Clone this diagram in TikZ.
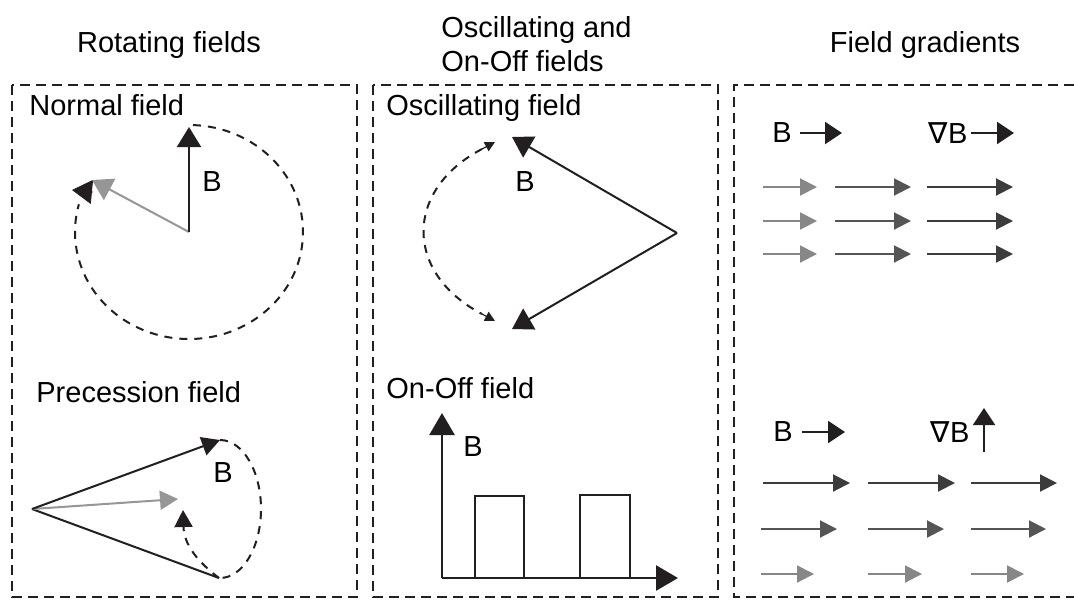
\documentclass[tikz,border=0pt]{standalone}
\usepackage{fontspec}
\setmainfont{Liberation Sans}
\newfontfamily\symbolfont{DejaVu Sans}
\usepackage{tikz}
\usetikzlibrary{arrows.meta}
\definecolor{InkBlack}{RGB}{35,31,32}
\definecolor{FieldGray}{RGB}{150,150,150}
\definecolor{LightShade}{RGB}{135,135,135}
\definecolor{MidShade}{RGB}{85,85,85}
\definecolor{DarkShade}{RGB}{60,60,60}

\begin{document}
\begin{tikzpicture}[
x=0.5pt, y=-0.5pt,
font=\fontsize{14.5}{17}\selectfont,
panel/.style={draw=InkBlack, line width=0.8pt, dash pattern=on 5pt off 3pt},
heading/.style={anchor=base},
caption/.style={anchor=base west, inner sep=0pt},
vec/.style={draw=InkBlack, line width=1pt, -{Triangle[length=10pt,width=12pt]}},
smallvec/.style={draw=InkBlack, line width=1pt, -{Triangle[length=9pt,width=9.5pt]}},
gvec/.style={draw=FieldGray, line width=1pt, -{Triangle[length=10pt,width=12pt]}},
gsmallvec/.style={draw=FieldGray, line width=1pt, -{Triangle[length=9pt,width=9.5pt]}},
orbit/.style={draw=InkBlack, line width=1pt, dash pattern=on 4pt off 3.5pt},
tinyhead/.style={draw=InkBlack, line width=0.6pt, -{Triangle[length=5pt,width=5pt]}},
axis/.style={draw=InkBlack, line width=1.3pt, -{Triangle[length=11pt,width=12.5pt]}},
pulse/.style={draw=InkBlack, line width=1.2pt},
keyarrow/.style={draw=InkBlack, line width=1pt, -{Triangle[length=8.5pt,width=11pt]}},
grad/.style={line width=1pt, -{Triangle[length=8.5pt,width=8.5pt]}},
light/.style={grad, draw=LightShade},
mid/.style={grad, draw=MidShade},
dark/.style={grad, draw=DarkShade}
]
\useasboundingbox (0,0) rectangle (1074,601);

\draw[panel] (12,85) rectangle (357,597);
\draw[panel] (373,85) rectangle (718,597);
\draw[panel] (1090,85) -- (734,85) -- (734,597) -- (1090,597);

\node[heading] (rottitle) at (169,52) {Rotating fields};
\node[caption] (osctitle) at (441,37) {Oscillating and};
\node[caption] (onofftitle) at (441,71) {On-Off fields};
\node[heading] (gradtitle) at (925,52) {Field gradients};

\node[caption] (normlbl) at (29,115) {Normal field};
\coordinate (nc) at (189,232);
\coordinate (ntip) at (189,127);
\coordinate (ngray) at (92,180);
\coordinate (nbase) at (93,192);
\coordinate (nhead) at (72,190);
\draw[orbit] ([shift={(-88:114 and 107)}]nc) arc[start angle=-88, end angle=195, x radius=114, y radius=107];
\draw[InkBlack, -{Triangle[length=10pt,width=12pt]}] (nbase) -- (nhead);
\draw[gvec] (nc) -- (ngray);
\draw[vec] (nc) -- (ntip);
\node (nlabel) at (212,182) {B};

\node[caption] (preclbl) at (36,402) {Precession field};
\coordinate (pa) at (32,509);
\coordinate (ptop) at (220,440);
\coordinate (pgray) at (178,499);
\coordinate (pbot) at (219,578);
\coordinate (pin) at (183,510);
\draw[orbit] (ptop) arc[start angle=-90, end angle=90, x radius=41, y radius=69];
\draw[orbit, -{Triangle[length=8.5pt,width=9pt]}] (pbot) .. controls (198,562) and (184,545) .. (pin);
\draw[InkBlack, line width=1pt] (pa) -- (pbot);
\draw[gsmallvec] (pa) -- (pgray);
\draw[smallvec] (pa) -- (ptop);
\node (plabel) at (223,473) {B};

\node[caption] (osclbl) at (386,115) {Oscillating field};
\coordinate (ov) at (677,233);
\coordinate (otop) at (512,137);
\coordinate (obot) at (512,329);
\coordinate (oa) at (482,149);
\coordinate (ob) at (482,314);
\coordinate (oatip) at (495,142);
\coordinate (obtip) at (495,321);
\draw[vec] (ov) -- (otop);
\draw[vec] (ov) -- (obot);
\draw[orbit] (oa) .. controls (404,190) and (404,273) .. (ob);
\draw[tinyhead] (oa) -- (oatip);
\draw[tinyhead] (ob) -- (obtip);
\node (olabel) at (525,182) {B};

\node[caption] (onofflbl) at (386,398) {On-Off field};
\coordinate (orig) at (442,578);
\coordinate (yend) at (442,413);
\coordinate (xend) at (678,578);
\draw[pulse] (475,578) rectangle (524,496);
\draw[pulse] (580,578) rectangle (630,495);
\draw[axis] (orig) -- (yend);
\draw[axis] (orig) -- (xend);
\node (onlabel) at (473,447) {B};

\node (gbtop) at (782,133) {B};
\draw[keyarrow] (800,133) -- (842,133);
\node (gntop) at (948,133) {{\symbolfont ∇}B};
\draw[keyarrow] (971,133) -- (1014,133);
\draw[light] (763,187) -- (817,187);
\draw[light] (763,221) -- (817,221);
\draw[light] (763,254) -- (817,254);
\draw[mid] (835,187) -- (911,187);
\draw[mid] (835,221) -- (911,221);
\draw[mid] (835,254) -- (911,254);
\draw[dark] (927,187) -- (1013,187);
\draw[dark] (927,221) -- (1013,221);
\draw[dark] (927,254) -- (1013,254);

\node (gbbot) at (783,432) {B};
\draw[keyarrow] (802,432) -- (845,432);
\node (gnbot) at (950,432) {{\symbolfont ∇}B};
\draw[keyarrow] (984,452) -- (984,408);
\draw[dark] (763,483) -- (850,483);
\draw[dark] (868,483) -- (955,483);
\draw[dark] (971,483) -- (1057,483);
\draw[mid] (761,529) -- (837,529);
\draw[mid] (868,529) -- (944,529);
\draw[mid] (971,529) -- (1046,529);
\draw[light] (761,574) -- (814,574);
\draw[light] (868,574) -- (922,574);
\draw[light] (971,574) -- (1024,574);
\end{tikzpicture}
\end{document}
